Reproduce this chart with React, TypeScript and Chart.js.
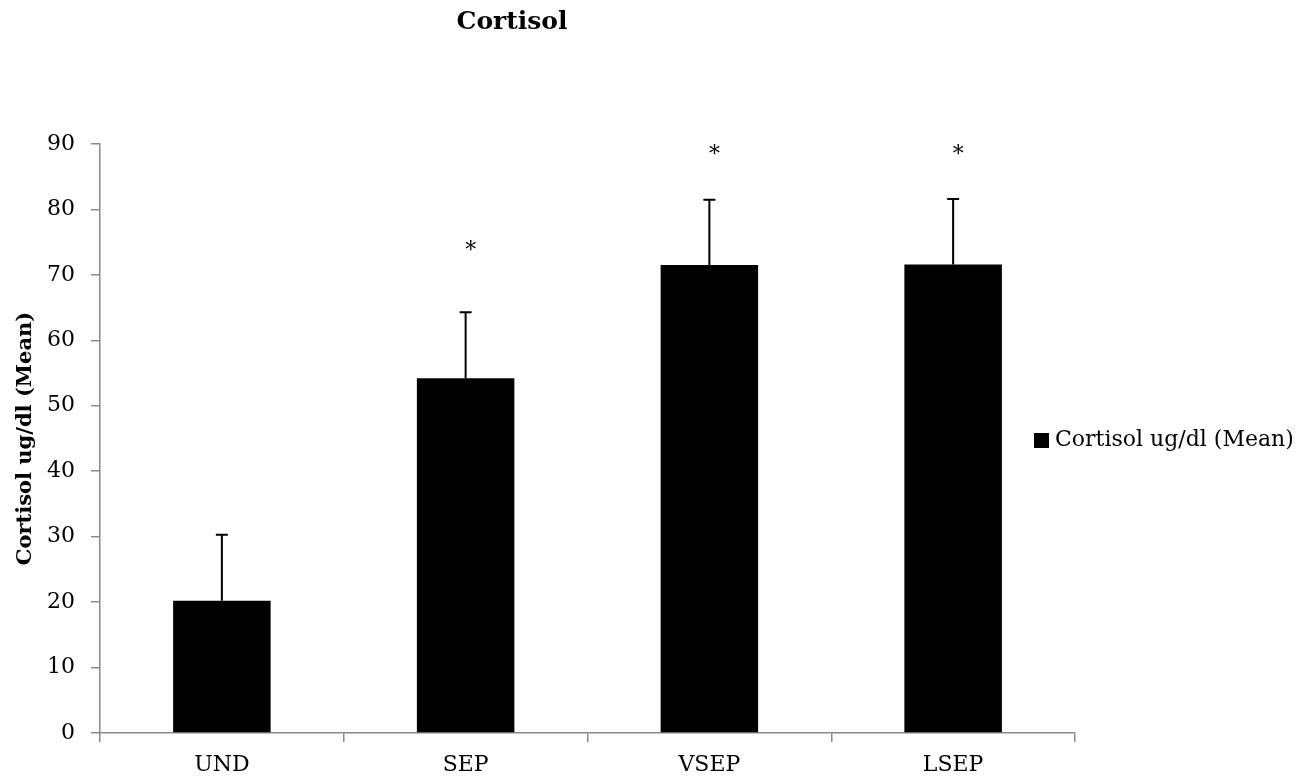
import React, { useEffect, useRef } from "react";
import { Chart, registerables } from "chart.js";

Chart.register(...registerables);

const chartTitle = "Cortisol";
const seriesLabel = "Cortisol ug/dl (Mean)";
const axisTitle = "Cortisol ug/dl (Mean)";
const categories = ["UND", "SEP", "VSEP", "LSEP"];
const meanValues = [20.2, 54.2, 71.5, 71.6];
const errorValues = [10.1, 10.1, 10.0, 10.0];
const significanceMarks = ["", "*", "*", "*"];
const significanceLevels = [0, 74.6, 89.3, 89.3];
const yMin = 0;
const yMax = 90;
const yStep = 10;

const FONT = "'DejaVu Serif', serif";
const AXIS_GRAY = "#8a8a8a";

const errorBarPlugin = {
  id: "errorBars",
  afterDatasetsDraw(chart: any) {
    const meta = chart.getDatasetMeta(0);
    const yScale = chart.scales.y;
    const ctx = chart.ctx;
    ctx.save();
    ctx.strokeStyle = "#000";
    ctx.lineWidth = 2;
    meta.data.forEach((el: any, i: number) => {
      const x = el.x;
      const yBase = yScale.getPixelForValue(meanValues[i]);
      const yTop = yScale.getPixelForValue(meanValues[i] + errorValues[i]);
      ctx.beginPath();
      ctx.moveTo(x, yBase);
      ctx.lineTo(x, yTop);
      ctx.moveTo(x - 6, yTop);
      ctx.lineTo(x + 6, yTop);
      ctx.stroke();
    });
    // significance marks
    ctx.fillStyle = "#000";
    ctx.font = `22px ${FONT}`;
    ctx.textAlign = "center";
    ctx.textBaseline = "alphabetic";
    meta.data.forEach((el: any, i: number) => {
      if (!significanceMarks[i]) return;
      const y = yScale.getPixelForValue(significanceLevels[i]);
      ctx.fillText(significanceMarks[i], el.x + 5, y + 12);
    });
    ctx.restore();
  },
};

const titleLegendPlugin = {
  id: "titleLegend",
  afterDraw(chart: any) {
    const ctx = chart.ctx;
    const area = chart.chartArea;
    ctx.save();
    // title
    ctx.fillStyle = "#000";
    ctx.font = `bold 25px ${FONT}`;
    ctx.textAlign = "center";
    ctx.textBaseline = "middle";
    ctx.fillText(chartTitle, area.left + 412, 14);
    // legend
    const midY = (area.top + area.bottom) / 2 + 2;
    const boxX = area.right - 41;
    ctx.fillRect(boxX, midY - 7.5, 15, 15);
    ctx.font = `22px ${FONT}`;
    ctx.textAlign = "left";
    ctx.textBaseline = "middle";
    ctx.fillText(seriesLabel, boxX + 21, midY);
    ctx.restore();
  },
};

export default function App() {
  const ref = useRef<HTMLCanvasElement>(null);
  useEffect(() => {
    if (!ref.current) return;
    Chart.defaults.font.family = FONT;
    Chart.defaults.color = "#000";
    const chart = new Chart(ref.current, {
      type: "bar",
      data: {
        labels: categories,
        datasets: [
          {
            label: seriesLabel,
            data: meanValues,
            backgroundColor: "#000",
            borderWidth: 0,
            barPercentage: 0.4,
            categoryPercentage: 1,
          },
        ],
      },
      options: {
        responsive: false,
        animation: false,
        layout: { padding: { top: 136, right: 223, bottom: 0, left: 0 } },
        plugins: {
          legend: { display: false },
          title: { display: false },
          tooltip: { enabled: false },
        },
        scales: {
          x: {
            offset: true,
            grid: {
              display: true,
              offset: true,
              drawOnChartArea: false,
              drawTicks: true,
              tickLength: 9,
              color: AXIS_GRAY,
              lineWidth: 1.5,
            },
            border: { display: true, color: AXIS_GRAY, width: 1.5 },
            ticks: {
              font: { size: 22, family: FONT },
              color: "#000",
              padding: 10,
              maxRotation: 0,
            },
            afterFit(scale: any) {
              scale.height = 43;
            },
          },
          y: {
            min: yMin,
            max: yMax,
            ticks: {
              stepSize: yStep,
              font: { size: 22, family: FONT },
              color: "#000",
              padding: 16,
            },
            grid: {
              display: true,
              drawOnChartArea: false,
              drawTicks: true,
              tickLength: 9,
              color: AXIS_GRAY,
              lineWidth: 1.5,
            },
            border: { display: true, color: AXIS_GRAY, width: 1.5 },
            title: {
              display: true,
              text: axisTitle,
              font: { size: 21, weight: "bold", family: FONT },
              color: "#000",
              padding: { top: 5, bottom: 0 },
            },
            afterFit(scale: any) {
              scale.width = 92;
            },
          },
        },
      },
      plugins: [errorBarPlugin, titleLegendPlugin],
    } as any);
    return () => chart.destroy();
  }, []);
  return (
    <div style={{ width: 1290, height: 768 }}>
      <canvas ref={ref} width={1290} height={768} style={{ display: "block" }} />
    </div>
  );
}
